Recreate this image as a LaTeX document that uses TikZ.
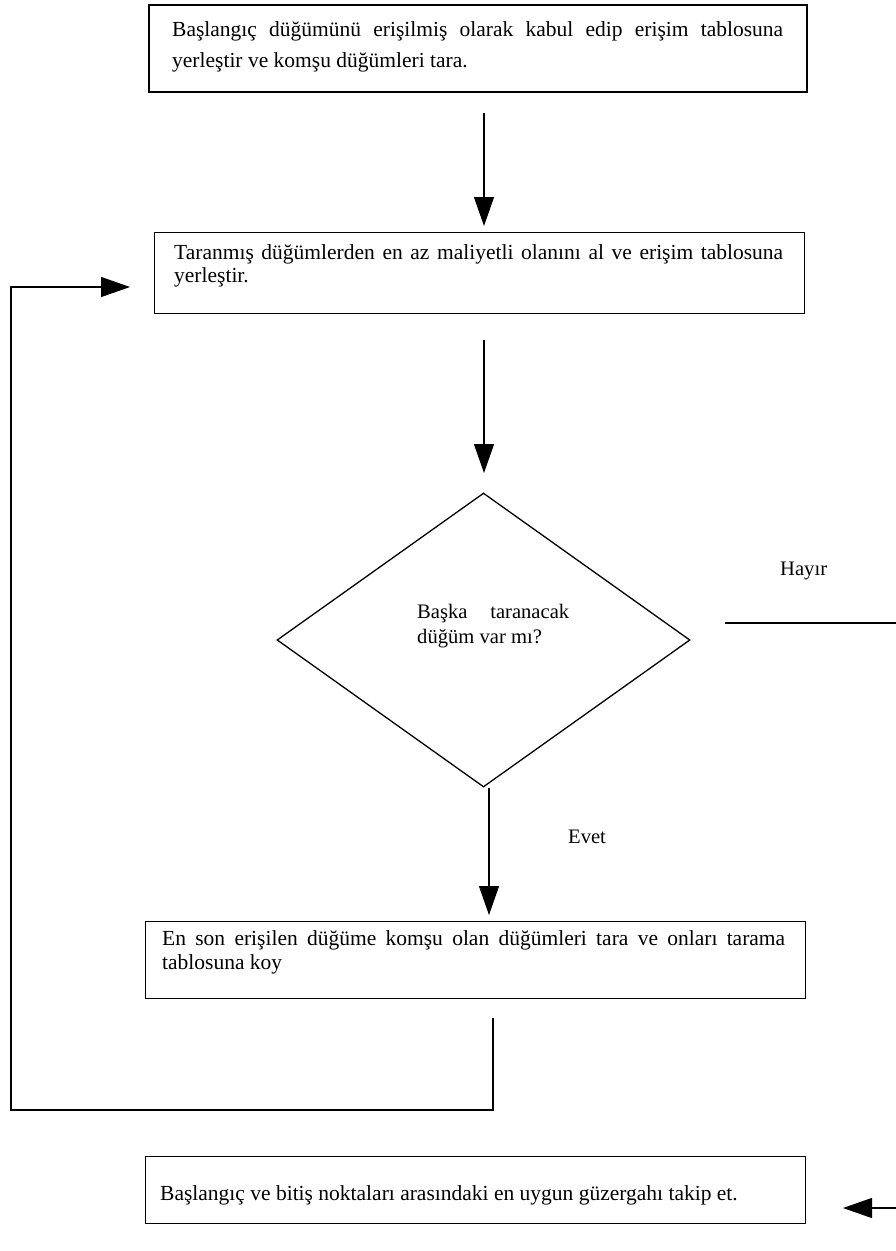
\documentclass[tikz,border=0pt]{standalone}
\usepackage{fontspec}
\setmainfont{Liberation Serif}
\usetikzlibrary{arrows.meta,shapes.geometric}

\tikzset{
  box/.style={draw, line width=1.3pt, rectangle, inner sep=0pt, anchor=north west},
  txt/.style={inner sep=0pt, anchor=base west},
  conn/.style={line width=1.3pt},
  arrowline/.style={conn, -{Triangle[length=29pt,width=20pt]}},
  decision/.style={draw, line width=1.3pt, diamond, inner sep=0pt,
    minimum width=413pt, minimum height=294pt},
  lbl/.style={inner sep=0pt, anchor=base west, font=\fontsize{20.6}{25}\selectfont}
}

\begin{document}
\begin{tikzpicture}[x=1pt, y=-1pt]
\useasboundingbox (0,0) rectangle (896,1251);

% process boxes
\node[box, line width=1.8pt, minimum width=658pt, minimum height=87pt] (b1) at (148,4) {};
\node[box, minimum width=650pt, minimum height=81pt] (b2) at (154,232) {};
\node[box, minimum width=660pt, minimum height=77pt] (b3) at (145,921) {};
\node[box, minimum width=660pt, minimum height=67pt] (b4) at (145,1156) {};

% box texts
\node[txt] (t1) at (172,36) {\parbox[t]{611pt}{\fontsize{21.5}{31}\selectfont
  Başlangıç düğümünü erişilmiş olarak kabul edip erişim tablosuna\linebreak
  yerleştir ve komşu düğümleri tara.}};
\node[txt] (t2) at (174,259) {\parbox[t]{609pt}{\fontsize{21.5}{23}\selectfont
  Taranmış düğümlerden en az maliyetli olanını al ve erişim tablosuna\linebreak
  yerleştir.}};
\node[txt] (t3) at (162,945) {\parbox[t]{623pt}{\fontsize{21.5}{24}\selectfont
  En son erişilen düğüme komşu olan düğümleri tara ve onları tarama\linebreak
  tablosuna koy}};
\node[txt] (t4) at (160,1200) {\fontsize{21.5}{24}\selectfont
  Başlangıç ve bitiş noktaları arasındaki en uygun güzergahı takip et.};

% decision
\node[decision] (dec) at (483.5,640) {};
\node[txt] (dt) at (417,618) {\parbox[t]{152pt}{\fontsize{20.6}{25}\selectfont
  Başka taranacak\linebreak düğüm var mı?}};

% branch labels
\node[lbl] (hayir) at (780,575) {Hayır};
\node[lbl] (evet) at (568,843) {Evet};

% connector end points
\coordinate (a1s) at (484,113);
\coordinate (a1e) at (484,226);
\coordinate (a2s) at (484,340);
\coordinate (a2e) at (484,473);
\coordinate (a3e) at (489,915);
\coordinate (ns) at (725,623);
\coordinate (ne) at (896,623);
\coordinate (loopstart) at (493,1018);
\coordinate (loopcorner) at (11,1110);
\coordinate (looptip) at (130,287);
\coordinate (ras) at (896,1208);
\coordinate (rae) at (843,1208);

% connectors
\draw[arrowline] (a1s) -- (a1e);
\draw[arrowline] (a2s) -- (a2e);
\draw[arrowline] ([xshift=5.5pt]dec.south) -- (a3e);
\draw[conn] (ns) -- (ne);
\draw[arrowline] (loopstart) |- (loopcorner) |- (looptip);
\draw[arrowline] (ras) -- (rae);

\end{tikzpicture}
\end{document}
